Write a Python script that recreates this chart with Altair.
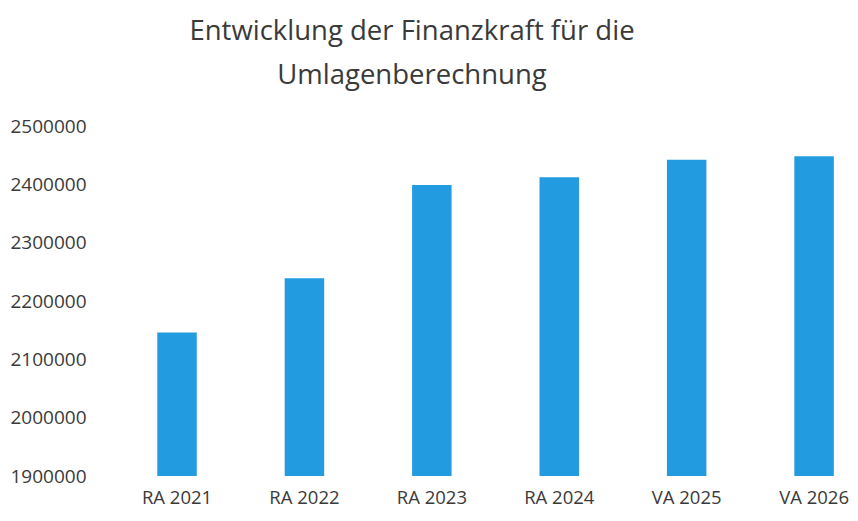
import altair as alt
import pandas as pd

categories = ["RA 2021", "RA 2022", "RA 2023", "RA 2024", "VA 2025", "VA 2026"]
values = [2146000, 2239000, 2399000, 2412000, 2442000, 2448000]
y_ticks = [1900000, 2000000, 2100000, 2200000, 2300000, 2400000, 2500000]
baseline = 1900000

df = pd.DataFrame({"Jahr": categories, "Wert": values})

FONT = "Open Sans"
TXT = "#3a3a3a"

chart = (
    alt.Chart(df)
    .mark_bar(color="#229BE0")
    .encode(
        x=alt.X(
            "Jahr:N",
            sort=categories,
            title=None,
            scale=alt.Scale(paddingInner=0.69, paddingOuter=0.249, align=0.745),
            axis=alt.Axis(
                labelAngle=0,
                labelFont=FONT,
                labelFontSize=18.5,
                labelColor=TXT,
                ticks=False,
                tickSize=0,
                domain=False,
                grid=False,
                labelPadding=12,
            ),
        ),
        y=alt.Y(
            "Wert:Q",
            title=None,
            scale=alt.Scale(domain=[1900000, 2500000], zero=False, nice=False),
            axis=alt.Axis(
                values=y_ticks,
                format="d",
                labelFont=FONT,
                labelFontSize=19,
                labelColor=TXT,
                labelAlign="left",
                labelPadding=100,
                ticks=False,
                tickSize=0,
                domain=False,
                grid=False,
            ),
        ),
        y2=alt.datum(baseline),
    )
    .properties(
        width=740,
        height=350,
        background="white",
        padding={"left": 102, "top": 118, "right": 0, "bottom": 37},
        autosize=alt.AutoSizeParams(type="none"),
        title=alt.TitleParams(
            text=["Entwicklung der Finanzkraft für die", "Umlagenberechnung"],
            font=FONT,
            fontSize=27.5,
            fontWeight="normal",
            color=TXT,
            lineHeight=44,
            anchor="middle",
            dx=-68,
            offset=28,
        ),
    )
    .configure_view(stroke=None)
)

chart.save("out.html", embed_options={"renderer": "svg", "actions": False})
